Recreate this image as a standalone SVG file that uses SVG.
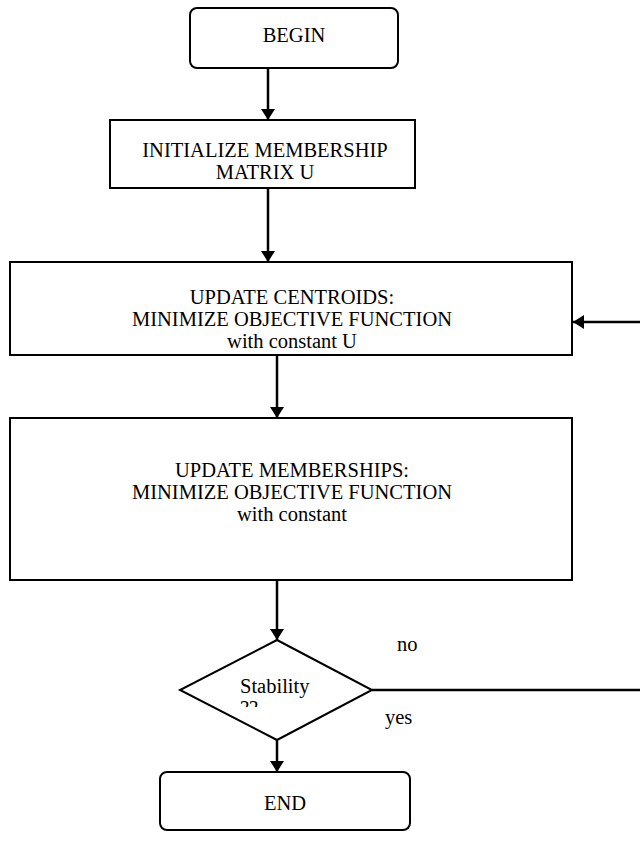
<svg xmlns="http://www.w3.org/2000/svg" width="640" height="856" viewBox="0 0 640 856">
<defs>
<marker id="ah" markerWidth="11" markerHeight="14" refX="11" refY="7" orient="auto" markerUnits="userSpaceOnUse">
<path d="M0,0 L11,7 L0,14 Z" fill="#000"/>
</marker>
<clipPath id="dclip"><rect x="180" y="640" width="192" height="67"/></clipPath>
<style>
.box{fill:#fff;stroke:#000;stroke-width:2}
.t{font-family:"Liberation Serif","Times New Roman",serif;font-size:20.5px;fill:#000;text-anchor:middle}
.s{text-anchor:start}
.c{fill:none;stroke:#000;stroke-width:2.5}
</style>
</defs>
<rect width="640" height="856" fill="#fff"/>
<g id="begin">
<rect class="box" x="190" y="8" width="208" height="60" rx="7"/>
<text class="t" x="294" y="42">BEGIN</text>
</g>
<g id="init">
<rect class="box" x="110" y="120" width="305" height="68"/>
<text class="t" x="265" y="157">INITIALIZE MEMBERSHIP</text>
<text class="t" x="265" y="179">MATRIX U</text>
</g>
<g id="centroids">
<rect class="box" x="10" y="262" width="562" height="93"/>
<text class="t" x="292" y="304">UPDATE CENTROIDS:</text>
<text class="t" x="292" y="326">MINIMIZE OBJECTIVE FUNCTION</text>
<text class="t" x="292" y="348">with constant U</text>
</g>
<g id="memberships">
<rect class="box" x="10" y="418" width="562" height="162"/>
<text class="t" x="292" y="477">UPDATE MEMBERSHIPS:</text>
<text class="t" x="292" y="499">MINIMIZE OBJECTIVE FUNCTION</text>
<text class="t" x="292" y="521">with constant</text>
</g>
<g id="stability">
<polygon class="box" points="277,640 372,690 277,740 180,690"/>
<g clip-path="url(#dclip)">
<text class="t s" x="240" y="693">Stability</text>
<text class="t s" x="240" y="715">??</text>
</g>
</g>
<g id="end">
<rect class="box" x="160" y="772" width="250" height="58" rx="7"/>
<text class="t" x="285" y="810">END</text>
</g>
<g id="connectors">
<line class="c" x1="268" y1="68" x2="268" y2="120" marker-end="url(#ah)"/>
<line class="c" x1="268" y1="188" x2="268" y2="262" marker-end="url(#ah)"/>
<line class="c" x1="277" y1="355" x2="277" y2="418" marker-end="url(#ah)"/>
<line class="c" x1="277" y1="580" x2="277" y2="640" marker-end="url(#ah)"/>
<line class="c" x1="277" y1="740" x2="277" y2="772" marker-end="url(#ah)"/>
<path class="c" d="M372,690 L660,690 L660,322 L573,322" marker-end="url(#ah)"/>
<text class="t s" x="397" y="651">no</text>
<text class="t s" x="385" y="724">yes</text>
</g>
</svg>
